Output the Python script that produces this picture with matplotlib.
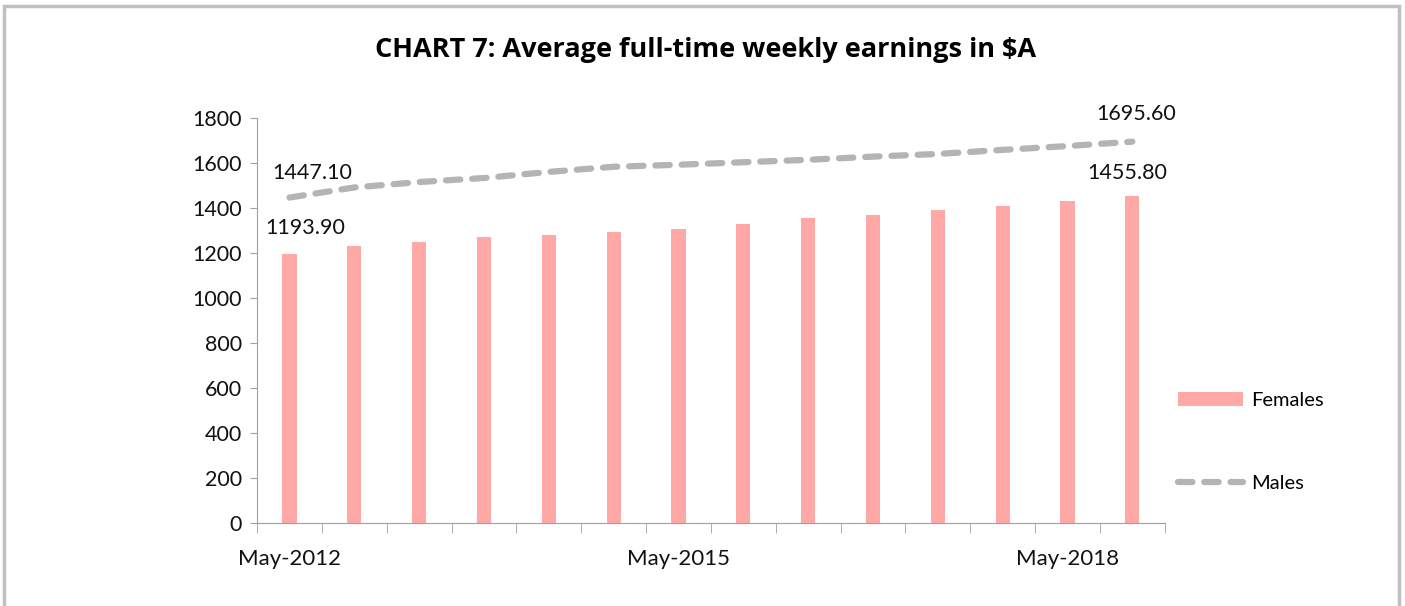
import matplotlib
matplotlib.use("Agg")
from matplotlib import pyplot as plt
from matplotlib.patches import Rectangle

# half-yearly periods, May-2012 .. Nov-2018
periods = ["May-2012", "Nov-2012", "May-2013", "Nov-2013", "May-2014", "Nov-2014",
           "May-2015", "Nov-2015", "May-2016", "Nov-2016", "May-2017", "Nov-2017",
           "May-2018", "Nov-2018"]
females = [1193.9, 1231, 1251, 1272, 1279, 1292, 1306, 1328, 1356, 1369, 1390, 1410, 1432, 1455.8]
males = [1447.1, 1492, 1516, 1534, 1561, 1584, 1593, 1604, 1615, 1629, 1641, 1659, 1676, 1695.6]
shown_labels = ["May-2012", "May-2015", "May-2018"]

plt.rcParams['font.family'] = ['Lato', 'DejaVu Sans']

fig = plt.figure(figsize=(14.05, 6.06), dpi=100)
ax = fig.add_axes([0.183, 0.137, 0.646, 0.668])

x = list(range(len(periods)))
bars = ax.bar(x, females, width=0.22, color='#FFA8A6', label='Females', zorder=2)
line, = ax.plot(x, males, color='#B4B4B4', linewidth=4.5, dashes=(2.3, 1.9),
                dash_capstyle='round', label='Males', zorder=3)

# data labels on first and last points
lab_kw = dict(textcoords='offset points', ha='center', va='center', fontsize=15.5, color='#111111')
ax.annotate(f"{females[0]:.2f}", (0, females[0]), xytext=(11, 19), **lab_kw)
ax.annotate(f"{males[0]:.2f}", (0, males[0]), xytext=(16, 18), **lab_kw)
ax.annotate(f"{females[-1]:.2f}", (x[-1], females[-1]), xytext=(-4, 16), **lab_kw)
ax.annotate(f"{males[-1]:.2f}", (x[-1], males[-1]), xytext=(3, 20), **lab_kw)

ax.set_xlim(-0.5, len(periods) - 0.5)
ax.set_ylim(0, 1800)
ax.set_yticks(range(0, 1801, 200))
ax.tick_params(axis='y', labelsize=15.5, length=5, color='#A0A0A0', pad=6, labelcolor='#111111')

# category labels under bars, tick marks between bars
ax.set_xticks(x)
ax.set_xticklabels([p if p in shown_labels else "" for p in periods])
ax.tick_params(axis='x', which='major', length=0, labelsize=16, pad=19, labelcolor='#111111')
ax.set_xticks([i - 0.5 for i in range(len(periods) + 1)], minor=True)
ax.tick_params(axis='x', which='minor', length=7, color='#A0A0A0')

for s in ['top', 'right']:
    ax.spines[s].set_visible(False)
for s in ['left', 'bottom']:
    ax.spines[s].set_color('#A0A0A0')

ax.legend([bars, line], ['Females', 'Males'], loc='center left', bbox_to_anchor=(0.995, 0.2),
          frameon=False, fontsize=14.5, labelspacing=3.3, handlelength=3.2, handletextpad=0.4)

fig.text(0.502, 0.917, "CHART 7: Average full-time weekly earnings in $A",
         family=['Open Sans', 'DejaVu Sans'], fontweight='bold', fontsize=19.5,
         ha='center', va='center')

# outer frame
fig.patches.append(Rectangle((0.003, -0.05), 0.993, 1.04, transform=fig.transFigure,
                             fill=False, edgecolor='#C0C0C0', linewidth=2.5))

plt.savefig("out.png", dpi=100)
